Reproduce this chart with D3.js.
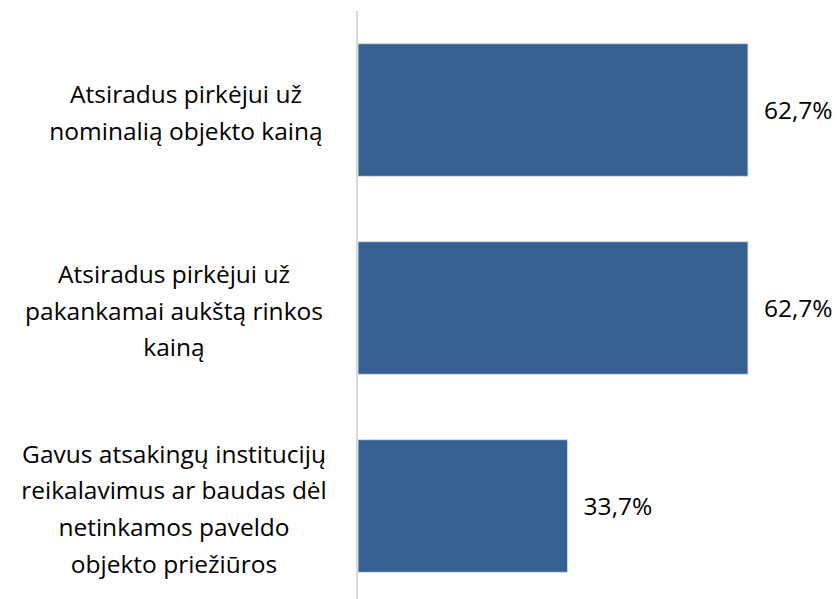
<!DOCTYPE html>
<html>
<head>
<meta charset="utf-8">
<script src="https://cdn.jsdelivr.net/npm/d3@7"></script>
<style>
  body { margin: 0; background: #fff; }
  text { font-family: "Open Sans", "DejaVu Sans", sans-serif; fill: #000; }
</style>
</head>
<body>
<div id="chart"></div>
<script>
var width = 839, height = 599;

// data
var categories = [
  ["Atsiradus pirkėjui už", "nominalią objekto kainą"],
  ["Atsiradus pirkėjui už", "pakankamai aukštą rinkos", "kainą"],
  ["Gavus atsakingų institucijų", "reikalavimus ar baudas dėl", "netinkamos paveldo", "objekto priežiūros"]
];
var values = [62.7, 62.7, 33.7];
var valueLabels = ["62,7%", "62,7%", "33,7%"];

const fontSize = 24.5;
const lineHeight = 36.7;

var svg = d3.select("#chart").append("svg")
    .attr("width", width)
    .attr("height", height);

var x = d3.scaleLinear().domain([0, 100]).range([358, 358 + 622]);
var y = d3.scaleBand()
    .domain(d3.range(values.length))
    .range([11, 605])
    .paddingInner(0.33)
    .paddingOuter(0.165);

// axis line
svg.append("line")
    .attr("x1", 357).attr("x2", 357)
    .attr("y1", 11).attr("y2", height)
    .attr("stroke", "#d9d9d9")
    .attr("stroke-width", 2);

svg.selectAll("rect.bar")
    .data(values)
    .enter()
    .append("rect")
    .attr("class", "bar")
    .attr("x", x(0))
    .attr("y", (d, i) => y(i))
    .attr("width", (d) => x(d) - x(0))
    .attr("height", y.bandwidth())
    .attr("fill", "#376092")
    .attr("stroke", "#d6dfea")
    .attr("stroke-width", 1);

svg.selectAll("text.val")
    .data(values)
    .enter()
    .append("text")
    .attr("class", "val")
    .attr("x", (d) => x(d) + 16)
    .attr("y", (d, i) => y(i) + y.bandwidth() / 2)
    .attr("dy", "0.35em")
    .attr("font-size", fontSize + "px")
    .text((d, i) => valueLabels[i]);

var labels = svg.selectAll("text.cat")
    .data(categories)
    .enter()
    .append("text")
    .attr("class", "cat")
    .attr("text-anchor", "middle")
    .attr("font-size", fontSize + "px")
    .attr("transform", (d, i) => "translate(" + (i === 0 ? 186 : 174) + "," + (y(i) + y.bandwidth() / 2 + 3) + ")");

labels.each(function (lines) {
  var node = d3.select(this);
  var n = lines.length;
  lines.forEach(function (line, k) {
    node.append("tspan")
      .attr("x", 0)
      .attr("y", (k - (n - 1) / 2) * lineHeight)
      .attr("dy", "0.35em")
      .text(line);
  });
});
</script>
</body>
</html>
